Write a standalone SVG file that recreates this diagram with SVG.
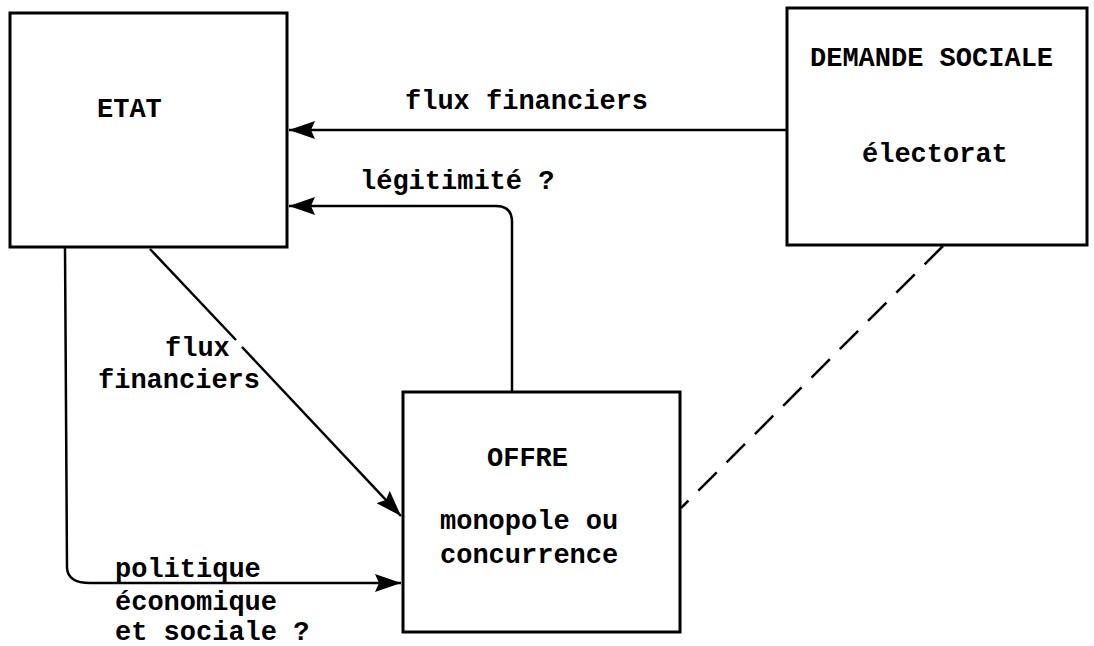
<svg xmlns="http://www.w3.org/2000/svg" width="1094" height="646" viewBox="0 0 1094 646">
<style>
.box{fill:#fff;stroke:#000;stroke-width:3}
.t{font-family:"Liberation Mono","Courier New",monospace;font-weight:bold;font-size:27px;fill:#000}
.c{fill:none;stroke:#000;stroke-width:2.5}
</style>
<defs>
<marker id="ah" viewBox="0 0 26 18" refX="26" refY="9" markerWidth="26" markerHeight="18" markerUnits="userSpaceOnUse" orient="auto">
<path d="M0,0 L26,9 L0,18 L4,9 Z" fill="#000"/>
</marker>
</defs>
<rect width="1094" height="646" fill="#fff"/>
<g id="connectors">
<line class="c" x1="787" y1="130" x2="289" y2="130" marker-end="url(#ah)"/>
<path class="c" d="M512,392 L512,222 Q512,206 496,206 L289,206" marker-end="url(#ah)"/>
<path class="c" d="M150,249 L236,340 M242,347 L401,516" marker-end="url(#ah)"/>
<path class="c" d="M65,247 L67,568 Q68,583 90,583 L401,583" marker-end="url(#ah)"/>
<line class="c" x1="943" y1="246" x2="681" y2="508" stroke-dasharray="26,14"/>
</g>
<g id="etat">
<rect class="box" x="10" y="13" width="277" height="234"/>
<text class="t" x="97" y="117">ETAT</text>
</g>
<g id="demande">
<rect class="box" x="787" y="8" width="300" height="237"/>
<text class="t" x="810" y="66">DEMANDE SOCIALE</text>
<text class="t" x="862" y="162">électorat</text>
</g>
<g id="offre">
<rect class="box" x="403" y="392" width="277" height="240"/>
<text class="t" x="487" y="466">OFFRE</text>
<text class="t" x="440" y="529">monopole ou</text>
<text class="t" x="440" y="563">concurrence</text>
</g>
<g id="labels">
<text class="t" x="405" y="109">flux financiers</text>
<text class="t" x="360" y="189">légitimité ?</text>
<text class="t" x="165" y="356">flux</text>
<text class="t" x="98" y="388">financiers</text>
<text class="t" x="115" y="577">politique</text>
<text class="t" x="115" y="610">économique</text>
<text class="t" x="115" y="640">et sociale ?</text>
</g>
</svg>
